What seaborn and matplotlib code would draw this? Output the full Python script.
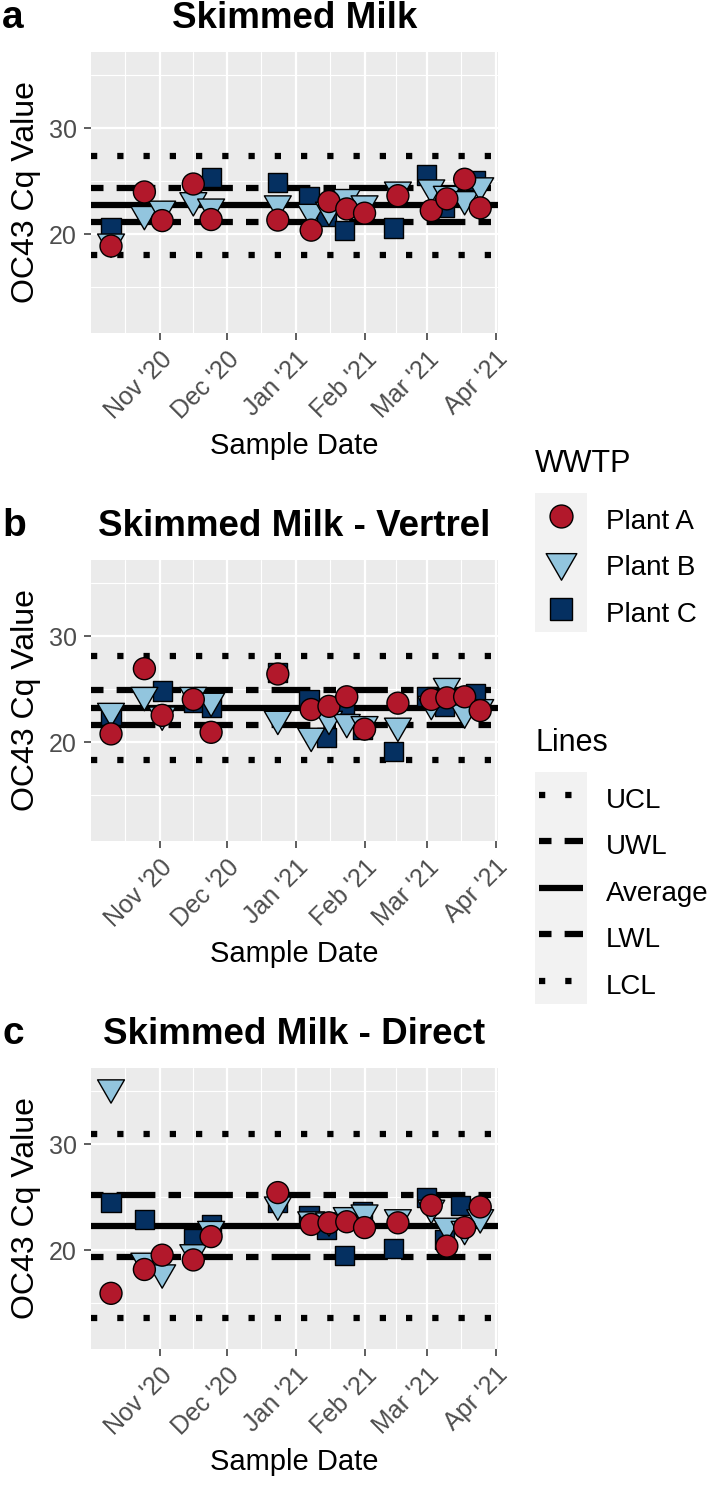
"""
Control charts of OC43 Cq values in skimmed-milk concentrates from three
wastewater treatment plants.
"""
import numpy as np
import pandas as pd
import seaborn as sns

from matplotlib import pyplot as plt
from matplotlib import dates as mdates
from matplotlib import ticker as tkr
from matplotlib.lines import Line2D
from matplotlib.path import Path
from matplotlib.patches import Rectangle


PLANTS = ["Plant A", "Plant B", "Plant C"]
LINE_NAMES = ["UCL", "UWL", "Average", "LWL", "LCL"]
TITLES = ["Skimmed Milk", "Skimmed Milk - Vertrel", "Skimmed Milk - Direct"]
PANEL_TAGS = ["a", "b", "c"]

# sample dates (Plant C samples were logged a day or two earlier)
DATES_AB = ["2020-10-10", "2020-10-25", "2020-11-02", "2020-11-16",
            "2020-11-24", "2020-12-24", "2021-01-08", "2021-01-16",
            "2021-01-24", "2021-02-01", "2021-02-16", "2021-03-03",
            "2021-03-10", "2021-03-18", "2021-03-25"]
DATES_C = ["2020-10-10", "2020-10-25", "2020-11-02", "2020-11-16",
           "2020-11-24", "2020-12-24", "2021-01-07", "2021-01-15",
           "2021-01-23", "2021-01-31", "2021-02-14", "2021-03-01",
           "2021-03-09", "2021-03-16", "2021-03-23"]

nan = np.nan

# a: Skimmed Milk
MILK_A = [18.9, 24.0, 21.3, 24.75, 21.4, 21.35, 20.4, 23.1, 22.4, 22.0,
          23.65, 22.25, 23.35, 25.2, 22.5]
MILK_B = [19.3, 21.9, 22.4, 23.2, 22.6, 22.9, 22.1, 22.3, 23.5, 22.9,
          24.2, 24.4, 23.8, 23.3, 24.6]
MILK_C = [20.6, nan, nan, nan, 25.4, 24.9, 23.6, 21.7, 20.4, nan,
          20.6, 25.6, 22.5, nan, 25.1]
MILK_LIMITS = [27.42, 24.34, 22.77, 21.19, 18.05]

# b: Skimmed Milk - Vertrel
VERTREL_A = [20.8, 26.95, 22.55, 24.05, 20.95, 26.45, 23.1, 23.4, 24.3,
             21.25, 23.7, 24.05, 24.2, 24.3, 23.0]
VERTREL_B = [22.95, 24.45, 22.6, 24.45, 23.9, 22.2, 20.6, 22.2, 21.9,
             21.7, 21.55, 23.6, 25.3, 22.8, 23.3]
VERTREL_C = [22.5, nan, 24.85, 23.75, 23.3, 26.6, 24.05, 20.45, 23.6,
             21.25, 19.15, 24.3, 23.4, nan, 24.6]
VERTREL_LIMITS = [28.13, 24.9, 23.28, 21.66, 18.38]

# c: Skimmed Milk - Direct
DIRECT_A = [15.95, 18.2, 19.55, 19.1, 21.3, 25.45, 22.45, 22.6, 22.7,
            22.15, 22.6, 24.25, 20.4, 22.15, 24.1]
DIRECT_B = [35.35, 19.0, 17.9, 19.8, 22.0, 24.3, 22.9, 22.8, 23.3, 23.55,
            23.1, 24.0, 22.3, 22.0, 23.1]
DIRECT_C = [24.5, 22.9, nan, 21.1, 22.45, 24.5, 23.25, 22.0, 19.55, 23.7,
            20.15, 24.95, 21.05, 24.2, nan]
DIRECT_LIMITS = [31.0, 25.22, 22.3, 19.4, 13.65]

COLORS = {"Plant A": "#B2182B", "Plant B": "#92C5DE", "Plant C": "#053061"}

# down triangle centred on its centroid, like R's pch 25
TRIANGLE = Path([(0, -1), (-0.866, 0.5), (0.866, 0.5), (0, -1)],
                [Path.MOVETO, Path.LINETO, Path.LINETO, Path.CLOSEPOLY])
MARKERS = {"Plant A": "o", "Plant B": TRIANGLE, "Plant C": "s"}
SIZES = {"Plant A": 250, "Plant B": 500, "Plant C": 190}
LEG_MS = {"Plant A": 16.5, "Plant B": 25.5, "Plant C": 15.5}

LINE_STYLES = [(0, (1, 3.2)), (0, (2, 2.1, 6.2, 2.1)), "-",
               (0, (2, 2.1, 6.2, 2.1)), (0, (1, 3.2))]
LINE_WIDTH = 4.5

W, H = 708, 1491
PANEL_BOXES = [(91, 52, 498, 333), (91, 560, 498, 841), (91, 1068, 498, 1349)]

sns.set_theme(style="darkgrid", rc={"axes.facecolor": "#EBEBEB",
                                    "grid.color": "white",
                                    "text.color": "black",
                                    "axes.labelcolor": "black"})
plt.rcParams["font.family"] = ["Liberation Sans", "DejaVu Sans"]


def make_frame(a, b, c):
    parts = []
    # plant C first so it sits underneath
    for plant, dates, vals in [("Plant C", DATES_C, c), ("Plant B", DATES_AB, b),
                               ("Plant A", DATES_AB, a)]:
        parts.append(pd.DataFrame({"date": pd.to_datetime(dates),
                                   "cq": vals, "plant": plant}))
    return pd.concat(parts).dropna()


def draw_panel(ax, data, limits, title):
    for val, ls in zip(limits, LINE_STYLES):
        ax.axhline(val, color="black", lw=LINE_WIDTH, ls=ls, zorder=2,
                   dash_capstyle="butt", solid_capstyle="butt")
    sns.scatterplot(data=data, x="date", y="cq", hue="plant", style="plant",
                    size="plant", palette=COLORS, markers=MARKERS, sizes=SIZES,
                    edgecolor="black", linewidth=1.0, legend=False, ax=ax,
                    zorder=3)

    ax.set_ylim(10.7, 37.2)
    ax.yaxis.set_major_locator(tkr.FixedLocator([20, 30]))
    ax.yaxis.set_minor_locator(tkr.FixedLocator([15, 25, 35]))

    ax.set_xlim(pd.Timestamp("2020-10-01"), pd.Timestamp("2021-04-02"))
    ax.xaxis.set_major_locator(mdates.MonthLocator(bymonth=[11, 12, 1, 2, 3, 4]))
    ax.xaxis.set_major_formatter(mdates.DateFormatter("%b '%y"))
    starts = mdates.date2num(pd.date_range("2020-10-01", "2021-04-01", freq="MS"))
    ax.xaxis.set_minor_locator(tkr.FixedLocator((starts[:-1] + starts[1:]) / 2))

    ax.grid(which="major", color="white", lw=1.6)
    ax.grid(which="minor", color="white", lw=0.8)
    for s in ax.spines.values():
        s.set_visible(False)
    ax.tick_params(which="major", bottom=True, left=True, length=5, width=1.1,
                   color="#333333", labelsize=18, labelcolor="#4D4D4D", pad=5)
    ax.tick_params(which="minor", length=0)
    plt.setp(ax.get_xticklabels(), rotation=45, ha="right", va="top",
             rotation_mode="anchor")

    ax.set_title(title, fontsize=26.5, fontweight="bold", pad=17, color="black")
    ax.set_xlabel("Sample Date", fontsize=21, labelpad=6)
    ax.set_ylabel("OC43 Cq Value", fontsize=23, labelpad=6)


def key_background(fig, leg, width):
    """grey key column behind legend handles, ggplot style"""
    pts = [h.get_transform().transform(h.get_xydata()) for h in leg.legend_handles]
    cx = np.mean(pts[0][:, 0])
    cys = [p[0, 1] for p in pts]
    pitch = abs(cys[0] - cys[1])
    top, bottom = max(cys) + pitch / 2, min(cys) - pitch / 2
    inv = fig.transFigure.inverted()
    (x0, y0), (x1, y1) = inv.transform([(cx - width / 2, bottom),
                                        (cx + width / 2, top)])
    fig.add_artist(Rectangle((x0, y0), x1 - x0, y1 - y0, transform=fig.transFigure,
                             facecolor="#F2F2F2", edgecolor="none", zorder=1))
    return top


def main():
    fig = plt.figure(figsize=(W / 100, H / 100), dpi=100)

    frames = [make_frame(MILK_A, MILK_B, MILK_C),
              make_frame(VERTREL_A, VERTREL_B, VERTREL_C),
              make_frame(DIRECT_A, DIRECT_B, DIRECT_C)]
    limits = [MILK_LIMITS, VERTREL_LIMITS, DIRECT_LIMITS]

    for box, data, lim, title, tag in zip(PANEL_BOXES, frames, limits, TITLES,
                                          PANEL_TAGS):
        left, top, right, bottom = box
        ax = fig.add_axes([left / W, 1 - bottom / H, (right - left) / W,
                           (bottom - top) / H])
        draw_panel(ax, data, lim, title)
        fig.text(2 / W, 1 - (top - 24) / H, tag, fontsize=28, fontweight="bold",
                 va="baseline", ha="left", color="black")

    plant_handles = [Line2D([], [], ls="none", marker=MARKERS[p],
                            markersize=LEG_MS[p], markerfacecolor=COLORS[p],
                            markeredgecolor="black", markeredgewidth=1.0)
                     for p in PLANTS]
    line_handles = [Line2D([], [], color="black", lw=LINE_WIDTH, ls=ls,
                           dash_capstyle="butt", solid_capstyle="butt")
                    for ls in LINE_STYLES]

    common = dict(loc="upper left", frameon=False, fontsize=20, labelspacing=0.5,
                  handleheight=1.43, borderpad=0, borderaxespad=0,
                  labelcolor="black")
    leg1 = fig.legend(plant_handles, PLANTS, bbox_to_anchor=(535 / W, 1 - 503 / H),
                      handlelength=1.87, handletextpad=0.68, **common)
    leg2 = fig.legend(line_handles, LINE_NAMES,
                      bbox_to_anchor=(539 / W, 1 - 782 / H),
                      handlelength=1.58, handletextpad=0.83, **common)

    fig.canvas.draw()
    inv = fig.transFigure.inverted()
    for leg, title in [(leg1, "WWTP"), (leg2, "Lines")]:
        top = key_background(fig, leg, 52)
        tx, ty = inv.transform((535, top + 21))
        fig.text(tx, ty, title, fontsize=22, ha="left", va="baseline",
                 color="black")

    fig.savefig("out.png", dpi=100)


if __name__ == "__main__":
    main()
